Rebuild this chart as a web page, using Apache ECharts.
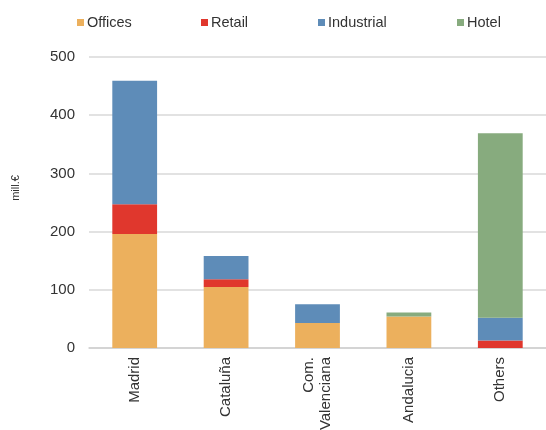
<!DOCTYPE html>
<html><head><meta charset="utf-8">
<script src="https://cdn.jsdelivr.net/npm/echarts@6/dist/echarts.min.js"></script>
<style>html,body{margin:0;padding:0;background:#fff}#c{width:546px;height:430px}</style>
</head><body><div id="c"></div>
<script>
const categories = ['Madrid', 'Cataluña', 'Com.\nValenciana', 'Andalucia', 'Others'];
const offices = [196, 105, 43, 54, 0];
const retail = [51, 13, 0, 0, 13];
const industrial = [212, 40, 32, 0, 39];
const hotel = [0, 0, 0, 7, 317];
const yTicks = [0, 100, 200, 300, 400, 500];
const yAxisName = 'mill.€';

const colors = {Offices:'#ECB05D', Retail:'#E0372D', Industrial:'#5E8CB8', Hotel:'#87AB7E'};
const font = 'Liberation Sans, Arial, sans-serif';
const chart = echarts.init(document.getElementById('c'));
function mk(name, data){
  return {name, type:'bar', stack:'s', data, barWidth:'49%', itemStyle:{color:colors[name]}};
}
const legendPos = {Offices:72, Retail:196, Industrial:313, Hotel:452};
chart.setOption({
  animation:false,
  textStyle:{fontFamily:font},
  legend: Object.keys(legendPos).map(n=>({data:[n], left:legendPos[n], top:10, icon:'rect', itemWidth:7, itemHeight:7, itemGap:2,
     textStyle:{fontFamily:font, fontSize:14.5, color:'#333', padding:[0,0,0,-2]}})),
  grid:{left:89, right:0, top:57, bottom:82, containLabel:false, outerBoundsMode:'none'},
  graphic:[{type:'text', x:16, y:188, rotation:Math.PI/2,
    style:{text:yAxisName, fontSize:11, fill:'#333', fontFamily:font, align:'center', verticalAlign:'middle'}}],
  xAxis:{type:'category', data:categories,
    axisLine:{lineStyle:{color:'#d0d0d0', width:1.5}}, axisTick:{show:false},
    axisLabel:{rotate:90, fontSize:15, color:'#333', fontFamily:font, margin:9, lineHeight:17}},
  yAxis:{type:'value', min:yTicks[0], max:yTicks[yTicks.length-1], interval:100,
    axisLabel:{fontSize:15, color:'#333', fontFamily:font, margin:14},
    splitLine:{lineStyle:{color:'#d9d9d9', width:1.5}}, axisLine:{show:false}, axisTick:{show:false}},
  series:[mk('Offices', offices), mk('Retail', retail), mk('Industrial', industrial), mk('Hotel', hotel)]
});
</script></body></html>
